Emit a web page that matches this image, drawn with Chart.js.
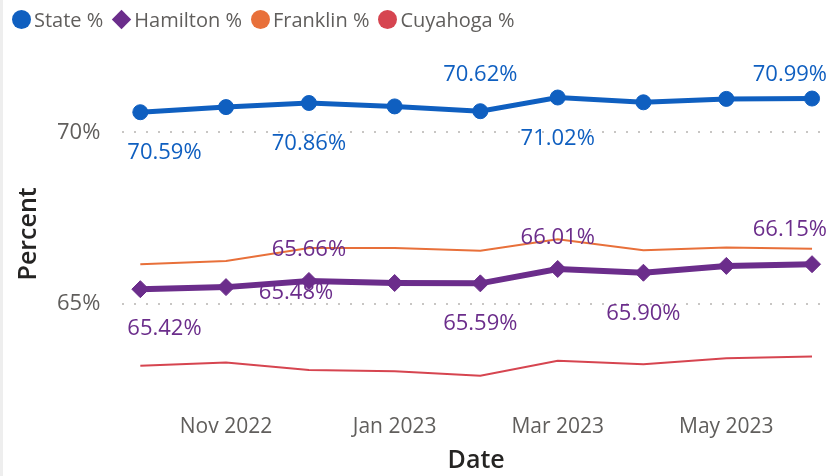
<!DOCTYPE html>
<html>
<head>
<meta charset="utf-8">
<script src="https://cdn.jsdelivr.net/npm/chart.js@4.4.0/dist/chart.umd.min.js"></script>
<style>
  html, body { margin: 0; padding: 0; background: #fff; }
  #wrap { position: relative; width: 830px; height: 476px; overflow: hidden; }
  #edge { position: absolute; left: 0; top: 0; width: 3px; height: 100%; background: #eeeeee; }
  #legend { position: absolute; left: 12px; top: 6px; display: flex; align-items: center;
            font: 20px "Open Sans", sans-serif; color: #605E5C; }
  .item { display: flex; align-items: center; margin-right: 9px; }
  .mark { width: 19px; height: 19px; margin-right: 3px; }
  .circle { border-radius: 50%; }
  .diamond { transform: rotate(45deg) scale(0.72); }
</style>
</head>
<body>
<div id="wrap">
  <canvas id="chart" width="830" height="476"></canvas>
  <div id="edge"></div>
  <div id="legend"></div>
</div>
<script>
const months = ["2022-10-01", "2022-11-01", "2022-12-01", "2023-01-01", "2023-02-01",
                "2023-03-01", "2023-04-01", "2023-05-01", "2023-06-01"];
const seriesNames = ["State %", "Hamilton %", "Franklin %", "Cuyahoga %"];
const stateValues = [70.59, 70.74, 70.86, 70.76, 70.62, 71.02, 70.88, 70.98, 70.99];
const hamiltonValues = [65.42, 65.48, 65.66, 65.60, 65.59, 66.01, 65.90, 66.10, 66.15];
const franklinValues = [66.15, 66.24, 66.62, 66.62, 66.54, 66.88, 66.56, 66.64, 66.60];
const cuyahogaValues = [63.18, 63.28, 63.06, 63.02, 62.89, 63.33, 63.23, 63.40, 63.45];
const xTickMonths = ["2022-11-01", "2023-01-01", "2023-03-01", "2023-05-01"];
const xTickLabels = ["Nov 2022", "Jan 2023", "Mar 2023", "May 2023"];
const yTicks = [65, 70];

const colors = ["#0F5FC0", "#6B2D8B", "#E8703A", "#D64550"];
const FONT = '"Open Sans", sans-serif';

// day number from an ISO date
const dayNum = (s) => Date.parse(s + "T00:00:00Z") / 86400000;
const toPoints = (vals) => vals.map((v, i) => ({ x: dayNum(months[i]), y: v }));

// which data labels are shown and where (Power BI style placement)
const labelSpots = [
  { series: 0, index: 0, dy: 41 },
  { series: 0, index: 2, dy: 41 },
  { series: 0, index: 4, dy: -40 },
  { series: 0, index: 5, dy: 41 },
  { series: 0, index: 8, dy: -40 },
  { series: 1, index: 0, dy: 40 },
  { series: 1, index: 1, dx: 70, dy: 6 },
  { series: 1, index: 2, dy: -31 },
  { series: 1, index: 4, dy: 40 },
  { series: 1, index: 5, dy: -31 },
  { series: 1, index: 6, dy: 41 },
  { series: 1, index: 8, dy: -34 },
];

const dataLabels = {
  id: "dataLabels",
  afterDatasetsDraw(chart) {
    const ctx = chart.ctx;
    const area = chart.chartArea;
    ctx.save();
    ctx.font = "22px " + FONT;
    ctx.textBaseline = "middle";
    ctx.textAlign = "left";
    labelSpots.forEach((s) => {
      const ds = chart.data.datasets[s.series];
      const pt = chart.getDatasetMeta(s.series).data[s.index];
      const text = ds.data[s.index].y.toFixed(2) + "%";
      const w = ctx.measureText(text).width;
      let x = pt.x + (s.dx || 0) - w / 2;
      x = Math.max(area.left + 5, Math.min(area.right - 3 - w, x));
      let y = pt.y + s.dy;
      y = Math.max(area.top + 10, y);
      ctx.fillStyle = ds.borderColor;
      ctx.fillText(text, x, y);
    });
    ctx.restore();
  },
};

const ctx = document.getElementById("chart").getContext("2d");
const chart = new Chart(ctx, {
  type: "line",
  data: {
    datasets: [
      { label: seriesNames[0], data: toPoints(stateValues), borderColor: colors[0], backgroundColor: colors[0],
        borderWidth: 5, pointStyle: "circle", pointRadius: 7.5, pointBorderWidth: 1 },
      { label: seriesNames[1], data: toPoints(hamiltonValues), borderColor: colors[1], backgroundColor: colors[1],
        borderWidth: 6, pointStyle: "rectRot", pointRadius: 8.5, pointBorderWidth: 1 },
      { label: seriesNames[2], data: toPoints(franklinValues), borderColor: colors[2], backgroundColor: colors[2],
        borderWidth: 2, pointRadius: 0 },
      { label: seriesNames[3], data: toPoints(cuyahogaValues), borderColor: colors[3], backgroundColor: colors[3],
        borderWidth: 2, pointRadius: 0 },
    ],
  },
  options: {
    responsive: false,
    animation: false,
    layout: { autoPadding: false, padding: { top: 65, left: 10, right: 0, bottom: 0 } },
    plugins: { legend: { display: false }, tooltip: { enabled: false } },
    elements: { line: { tension: 0 } },
    scales: {
      x: {
        type: "linear",
        min: dayNum(months[0]) - 6.5,
        max: dayNum(months[months.length - 1]) + 6.5,
        afterBuildTicks: (axis) => { axis.ticks = xTickMonths.map((m) => ({ value: dayNum(m) })); },
        ticks: {
          autoSkip: false, maxRotation: 0, padding: 4,
          color: "#605E5C", font: { family: FONT, size: 21 },
          callback: (v) => xTickLabels[xTickMonths.findIndex((m) => dayNum(m) === v)],
        },
        grid: { display: false },
        border: { display: false },
        title: { display: true, text: "Date", color: "#252423",
                 font: { family: FONT, size: 25, weight: 600 }, padding: { top: 2, bottom: 0 } },
      },
      y: {
        min: 62.1,
        max: 71.97,
        afterBuildTicks: (axis) => { axis.ticks = yTicks.map((v) => ({ value: v })); },
        ticks: { padding: 22, color: "#605E5C", font: { family: FONT, size: 22 }, callback: (v) => v + "%" },
        grid: { color: "#C8C6C4", lineWidth: 2, drawTicks: false },
        border: { display: false, dash: [2, 10] },
        title: { display: true, text: "Percent", color: "#252423",
                 font: { family: FONT, size: 25, weight: 600 }, padding: { top: 4, bottom: -9 } },
      },
    },
  },
  plugins: [dataLabels],
});

// legend built from the chart datasets
const legend = document.getElementById("legend");
chart.data.datasets.forEach((ds) => {
  const item = document.createElement("div");
  item.className = "item";
  const shape = ds.pointStyle === "rectRot" ? "diamond" : "circle";
  item.innerHTML = `<div class="mark ${shape}" style="background:${ds.borderColor}"></div><span>${ds.label}</span>`;
  legend.appendChild(item);
});
</script>
</body>
</html>
